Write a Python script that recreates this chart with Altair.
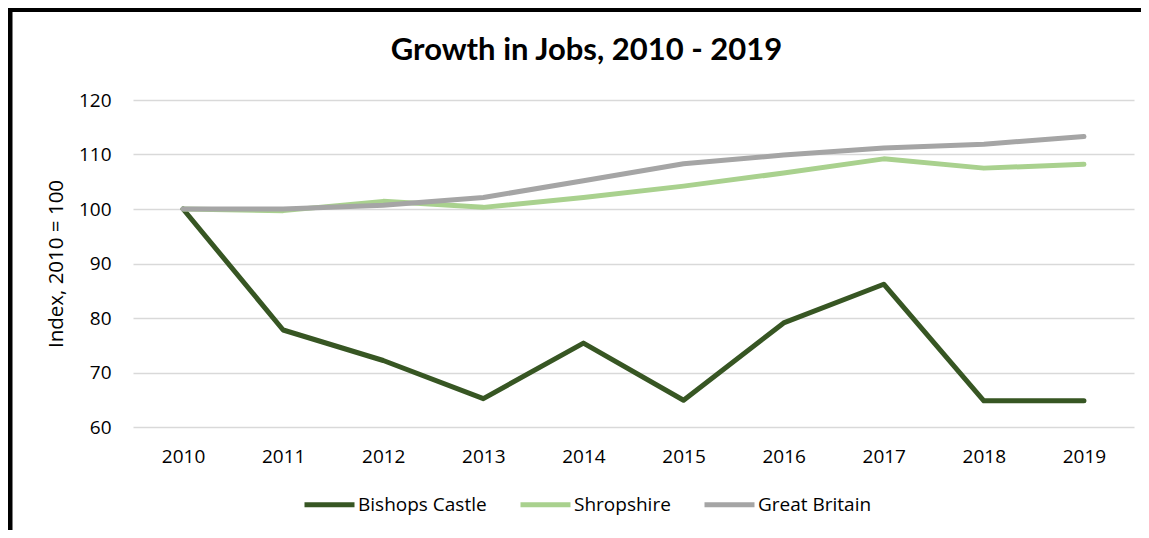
import altair as alt
import pandas as pd

years = [2010, 2011, 2012, 2013, 2014, 2015, 2016, 2017, 2018, 2019]
bishops_castle = [100, 77.8, 72.2, 65.2, 75.4, 64.9, 79.1, 86.2, 64.8, 64.8]
shropshire = [100, 99.7, 101.4, 100.3, 102.1, 104.2, 106.6, 109.2, 107.5, 108.2]
great_britain = [100, 100, 100.7, 102.1, 105.2, 108.3, 109.9, 111.2, 111.9, 113.3]

series_names = ["Bishops Castle", "Shropshire", "Great Britain"]
series_colors = ["#375623", "#A9D18E", "#A5A5A5"]
y_ticks = [60, 70, 80, 90, 100, 110, 120]

rows = []
for name, vals in zip(series_names, [bishops_castle, shropshire, great_britain]):
    for yr, v in zip(years, vals):
        rows.append({"Year": str(yr), "Series": name, "Value": v})
df = pd.DataFrame(rows)

one = pd.DataFrame({"a": [0]})

FONT = "Open Sans"

lines = alt.Chart(df).mark_line(strokeWidth=5, strokeCap="round", strokeJoin="round").encode(
    x=alt.X(
        "Year:O",
        scale=alt.Scale(type="point", padding=0.5),
        axis=alt.Axis(
            title=None, labelAngle=0, ticks=False, domain=False, grid=False,
            labelPadding=20, labelFontSize=19, labelColor="#000000", labelFont=FONT,
        ),
    ),
    y=alt.Y(
        "Value:Q",
        scale=alt.Scale(domain=[60, 120], nice=False, zero=False),
        axis=alt.Axis(
            title="Index, 2010 = 100", values=y_ticks, ticks=False, domain=False,
            labelPadding=22, labelFontSize=19, labelColor="#000000", labelFont=FONT,
            gridColor="#D9D9D9", gridWidth=1.5,
            titleFontSize=20.5, titleFontWeight="normal", titleFont=FONT,
            titleColor="#000000", titlePadding=12,
        ),
    ),
    color=alt.Color(
        "Series:N",
        scale=alt.Scale(domain=series_names, range=series_colors),
        sort=series_names,
        legend=alt.Legend(
            title=None, orient="none", legendX=169, legendY=377,
            direction="horizontal", symbolType="stroke", symbolSize=2500,
            symbolStrokeWidth=5, labelFontSize=19, labelFont=FONT,
            labelColor="#000000", labelOffset=1, columnPadding=23, padding=0,
        ),
    ),
    order=alt.Order("Year:O"),
)

border_left = alt.Chart(one).mark_rule(color="#000000", strokeWidth=5).encode(
    x=alt.value(-123), y=alt.value(-92), y2=alt.value(440)
)
border_top = alt.Chart(one).mark_rule(color="#000000", strokeWidth=4).encode(
    x=alt.value(-125), x2=alt.value(1008), y=alt.value(-90)
)

chart = alt.layer(border_left, border_top, lines).properties(
    width=1001,
    height=327,
    autosize=alt.AutoSizeParams(type="none"),
    padding={"left": 125, "top": 92, "right": 7, "bottom": 103},
    title=alt.TitleParams(
        "Growth in Jobs, 2010 - 2019", font="Lato", fontSize=31, fontWeight="bold",
        color="#000000", anchor="middle", frame="group", dx=-47, offset=-92,
        baseline="bottom",
    ),
    background="#FFFFFF",
).configure_view(stroke=None)

chart.save("out.html", embed_options={"renderer": "svg", "actions": False})
